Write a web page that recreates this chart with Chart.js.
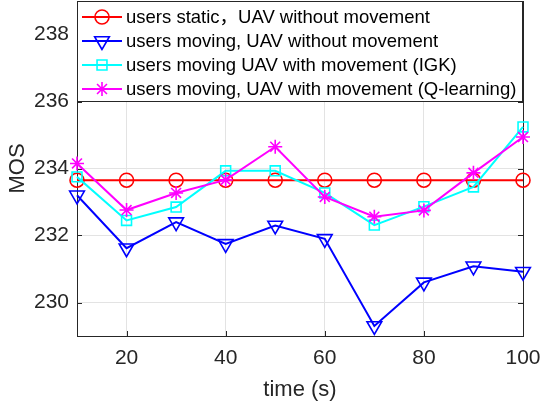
<!DOCTYPE html>
<html>
<head>
<meta charset="utf-8">
<script src="https://cdn.jsdelivr.net/npm/chart.js@4/dist/chart.umd.min.js"></script>
<style>
  html, body { margin: 0; padding: 0; background: #ffffff; }
  #wrap { width: 540px; height: 404px; }
</style>
</head>
<body>
<div id="wrap"><canvas id="c" width="540" height="404"></canvas></div>
<script>
// time axis (s)
const timeSteps = [10, 20, 30, 40, 50, 60, 70, 80, 90, 100];

// MOS for each scenario
const mosStatic   = [233.65, 233.65, 233.65, 233.65, 233.65, 233.65, 233.65, 233.65, 233.65, 233.65];
const mosNoMove   = [233.2, 231.62, 232.4, 231.75, 232.3, 231.9, 229.3, 230.6, 231.08, 230.92];
const mosIGK      = [233.75, 232.45, 232.85, 233.93, 233.93, 233.27, 232.31, 232.86, 233.45, 235.24];
const mosQLearn   = [234.15, 232.76, 233.27, 233.66, 234.65, 233.15, 232.56, 232.75, 233.87, 234.94];

const seriesNames = [
  'users static\uFF0CUAV without movement',
  'users moving, UAV without movement',
  'users moving UAV with movement (IGK)',
  'users moving, UAV with movement (Q-learning)'
];

const xTicks = [20, 40, 60, 80, 100];
const yTicks = [230, 232, 234, 236, 238];

const FONT = '"Liberation Sans", Arial, "Noto Sans CJK SC", sans-serif';
const INK = '#262626';
const GRID = '#e3e3e3';

function pts(vals) {
  return timeSteps.map((t, i) => ({ x: t, y: vals[i] }));
}

// axes box with inward tick marks on all four sides
const boxPlugin = {
  id: 'axesBox',
  beforeDatasetsDraw(chart) {
    const { ctx, chartArea: a, scales } = chart;
    ctx.save();
    ctx.strokeStyle = INK;
    ctx.lineWidth = 1;
    const tl = 5;
    ctx.beginPath();
    xTicks.forEach(v => {
      const px = Math.round(scales.x.getPixelForValue(v)) + 0.5;
      ctx.moveTo(px, a.bottom); ctx.lineTo(px, a.bottom - tl);
      ctx.moveTo(px, a.top); ctx.lineTo(px, a.top + tl);
    });
    yTicks.forEach(v => {
      const py = Math.round(scales.y.getPixelForValue(v)) + 0.5;
      ctx.moveTo(a.left, py); ctx.lineTo(a.left + tl, py);
      ctx.moveTo(a.right, py); ctx.lineTo(a.right - tl, py);
    });
    ctx.stroke();
    ctx.strokeRect(Math.round(a.left) + 0.5, Math.round(a.top) + 0.5,
                   Math.round(a.right - a.left), Math.round(a.bottom - a.top));
    ctx.restore();
  }
};

// boxed legend in the upper part of the plot, line + marker samples
const legendPlugin = {
  id: 'boxLegend',
  afterDatasetsDraw(chart) {
    const { ctx, chartArea: a } = chart;
    const left = Math.round(a.left) + 0.5, top = Math.round(a.top) + 0.5;
    const right = 522.5, bottom = 101.5;
    ctx.save();
    ctx.fillStyle = '#ffffff';
    ctx.fillRect(left, top, right - left, bottom - top);
    ctx.strokeStyle = INK;
    ctx.lineWidth = 1;
    ctx.strokeRect(left, top, right - left, bottom - top);
    const rowY = [17, 41, 65, 89];
    chart.data.datasets.forEach((ds, i) => {
      const y = rowY[i];
      ctx.strokeStyle = ds.borderColor;
      ctx.lineWidth = ds.borderWidth;
      ctx.beginPath();
      ctx.moveTo(82, y); ctx.lineTo(122, y);
      ctx.stroke();
      ctx.lineWidth = ds.pointBorderWidth;
      ctx.fillStyle = 'rgba(0,0,0,0)';
      Chart.helpers.drawPoint(ctx, {
        pointStyle: ds.pointStyle,
        rotation: ds.pointRotation || 0,
        radius: ds.pointRadius,
        borderWidth: ds.pointBorderWidth
      }, 102, y);
      ctx.fillStyle = '#000000';
      ctx.font = '18.5px ' + FONT;
      ctx.textAlign = 'left';
      ctx.textBaseline = 'middle';
      ctx.fillText(ds.label, 126, y + 1);
    });
    ctx.restore();
  }
};

function series(label, vals, color, style, radius, order, rotation) {
  return {
    label,
    data: pts(vals),
    borderColor: color,
    backgroundColor: 'rgba(0,0,0,0)',
    borderWidth: 2,
    pointStyle: style,
    pointRadius: radius,
    pointHoverRadius: radius,
    pointBorderWidth: 1.6,
    pointBorderColor: color,
    pointBackgroundColor: 'rgba(0,0,0,0)',
    pointRotation: rotation || 0,
    tension: 0,
    fill: false,
    clip: false,
    order
  };
}

// fixed axis sizes, no extra label overflow padding
function fitX(s) {
  s.height = 68;
  s.paddingLeft = 0; s.paddingRight = 0;
}
function fitY(s) {
  s.width = 77;
  s.paddingTop = 0; s.paddingBottom = 0;
}

new Chart(document.getElementById('c'), {
  type: 'line',
  data: {
    datasets: [
      series(seriesNames[0], mosStatic, '#ff0000', 'circle', 7, 4),
      series(seriesNames[1], mosNoMove, '#0000ff', 'triangle', 8.5, 3, 180),
      series(seriesNames[2], mosIGK, '#00ffff', 'rect', 7, 2),
      series(seriesNames[3], mosQLearn, '#ff00ff', 'star', 7, 1)
    ]
  },
  options: {
    responsive: false,
    devicePixelRatio: 1,
    animation: false,
    events: [],
    layout: { autoPadding: false, padding: { top: 1, right: 17, bottom: 0, left: 0 } },
    plugins: { legend: { display: false }, tooltip: { enabled: false } },
    scales: {
      x: {
        type: 'linear',
        min: 10,
        max: 100,
        afterBuildTicks: s => { s.ticks = xTicks.map(v => ({ value: v })); },
        afterFit: fitX,
        border: { display: false },
        grid: { color: GRID, lineWidth: 1, drawTicks: false },
        ticks: { padding: 10, color: INK, font: { family: FONT, size: 21 } },
        title: {
          display: true, text: 'time (s)', color: INK,
          font: { family: FONT, size: 22 }, padding: { top: 0, bottom: 1 }
        }
      },
      y: {
        type: 'linear',
        min: 229,
        max: 239,
        afterBuildTicks: s => { s.ticks = yTicks.map(v => ({ value: v })); },
        afterFit: fitY,
        border: { display: false },
        grid: { color: GRID, lineWidth: 1, drawTicks: false },
        ticks: { padding: 8, color: INK, font: { family: FONT, size: 21 } },
        title: {
          display: true, text: 'MOS', color: INK,
          font: { family: FONT, size: 22 }, padding: { top: 5, bottom: 0 }
        }
      }
    }
  },
  plugins: [boxPlugin, legendPlugin]
});
</script>
</body>
</html>
